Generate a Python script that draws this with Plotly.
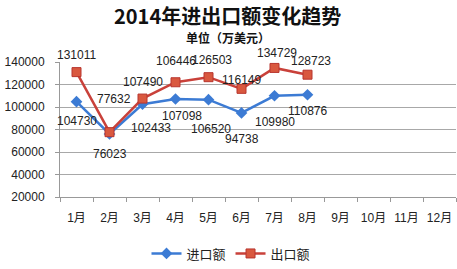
import plotly.graph_objects as go

months = ["1月", "2月", "3月", "4月", "5月", "6月", "7月", "8月", "9月", "10月", "11月", "12月"]
import_vals = [104730, 76023, 102433, 107098, 106520, 94738, 109980, 110876]
export_vals = [131011, 77632, 107490, 122000, 126503, 116149, 134729, 128723]
import_labels = ["104730", "76023", "102433", "107098", "106520", "94738", "109980", "110876"]
export_labels = ["131011", "77632", "107490", "106446", "126503", "116149", "134729", "128723"]
y_ticks = [20000, 40000, 60000, 80000, 100000, 120000, 140000]
y_tick_text = ["20000", "40000", "60000", "80000", "100000", "120000", "140000"]

# label offsets in pixels (style only)
imp_shift = [(0, -19), (0, -20), (8, -24), (6, -17), (2, -29), (0, -26), (0, -26), (0, -16)]
exp_shift = [(0, 17), (4, 33), (0, 17), (0, 21), (3, 17), (0, 9), (2, 15), (3, 14)]

BLUE = "#3c7bd4"
RED = "#c9413a"
FONT = "Liberation Sans, Noto Sans CJK SC, sans-serif"

fig = go.Figure()
fig.add_trace(go.Scatter(
    x=months[:len(import_vals)], y=import_vals, name="进口额", mode="lines+markers",
    line=dict(color=BLUE, width=2.5),
    marker=dict(symbol="diamond", size=9, color=BLUE),
))
fig.add_trace(go.Scatter(
    x=months[:len(export_vals)], y=export_vals, name="出口额", mode="lines+markers",
    line=dict(color=RED, width=2.5),
    marker=dict(symbol="square", size=9, color="#d9583f", line=dict(color="#b8352e", width=1)),
))

annos = []
for m, v, t, (dx, dy) in zip(months, import_vals, import_labels, imp_shift):
    annos.append(dict(x=m, y=v, text=t, showarrow=False, xshift=dx, yshift=dy,
                      font=dict(size=12, color="#222", family=FONT)))
for m, v, t, (dx, dy) in zip(months, export_vals, export_labels, exp_shift):
    annos.append(dict(x=m, y=v, text=t, showarrow=False, xshift=dx, yshift=dy,
                      font=dict(size=12, color="#222", family=FONT)))

annos.append(dict(xref="paper", yref="paper", x=(227.5 - 60) / 396, y=1 + (62 - 13) / 141,
                  xanchor="center", yanchor="middle",
                  text="<b>2014年进出口额变化趋势</b>", showarrow=False,
                  font=dict(size=20, color="#111", family="Noto Sans CJK SC")))
annos.append(dict(xref="paper", yref="paper", x=(228 - 60) / 396, y=1 + (62 - 36) / 141,
                  xanchor="center", yanchor="middle",
                  text="<b>单位（万美元）</b>", showarrow=False,
                  font=dict(size=12, color="#111", family="Noto Sans CJK SC")))

fig.update_layout(
    width=457, height=269,
    margin=dict(l=60, r=1, t=62, b=66),
    plot_bgcolor="white", paper_bgcolor="white",
    showlegend=True,
    legend=dict(orientation="h", x=(231 - 60) / 396, xanchor="center",
                y=-(262 - 203) / 141, yanchor="middle",
                font=dict(size=13, color="#222", family="Noto Sans CJK SC"),
                itemwidth=30, tracegroupgap=0),
    annotations=annos,
    font=dict(family=FONT, color="#222"),
)
fig.update_xaxes(
    type="category", categoryorder="array", categoryarray=months,
    range=[-0.5, 11.5], tickangle=0,
    showline=True, linecolor="#999", linewidth=1,
    ticks="outside", tickson="boundaries", ticklen=4, tickcolor="#999",
    ticklabelstandoff=10,
    showgrid=False, tickfont=dict(size=12, color="#222"),
)
fig.update_yaxes(
    range=[20000, 140000], tickvals=y_ticks, ticktext=y_tick_text,
    showline=True, linecolor="#999", linewidth=1,
    ticks="outside", ticklen=4, tickcolor="#999",
    ticklabelstandoff=8,
    showgrid=True, gridcolor="#a8a8a8", gridwidth=1,
    tickfont=dict(size=12, color="#222"), zeroline=False,
)

fig.write_html("out.html")
